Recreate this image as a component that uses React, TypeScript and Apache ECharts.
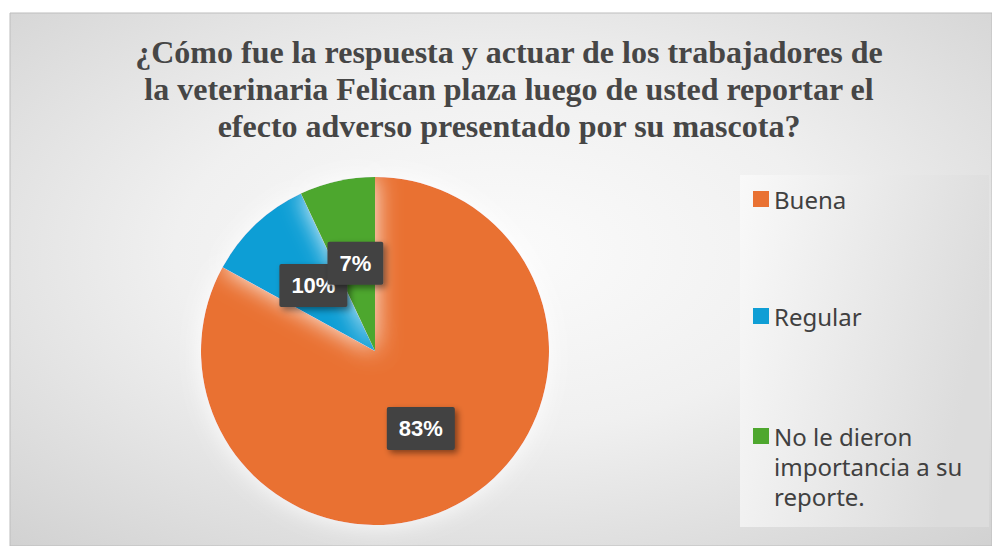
import React, { useEffect, useRef } from "react";
import * as echarts from "echarts";

const titleLines = [
  "¿Cómo fue la respuesta y actuar de los trabajadores de",
  "la veterinaria Felican plaza luego de usted reportar el",
  "efecto adverso presentado por su mascota?",
];
const categories = ["Buena", "Regular", "No le dieron importancia a su reporte."];
const legendLabels = ["Buena", "Regular", "\n\nNo le dieron\nimportancia a su\nreporte."];
const values = [83, 10, 7];
const colors = ["#E97132", "#0F9ED5", "#4EA72E"];

export default function App() {
  const ref = useRef<HTMLDivElement>(null);
  useEffect(() => {
    document.body.style.margin = "0";
    const chart = echarts.init(ref.current!, undefined, { renderer: "svg" });
    const legendTops = [184, 301, 361];
    const legendTextStyle = {
      fontFamily: "Noto Sans",
      fontSize: 24,
      color: "#404040",
      lineHeight: 30,
    };
    chart.setOption({
      animation: false,
      backgroundColor: "#ffffff",
      graphic: [
        {
          type: "rect",
          z: -10,
          shape: { x: 10, y: 13, width: 982, height: 533 },
          style: {
            fill: new echarts.graphic.RadialGradient(0.5, 0.45, 0.95, [
              { offset: 0, color: "#fbfbfb" },
              { offset: 0.35, color: "#f0f0f0" },
              { offset: 1, color: "#c2c2c2" },
            ]),
            stroke: "#bdbdbd",
            lineWidth: 1,
          },
        },
        {
          type: "rect",
          z: -9,
          shape: { x: 740, y: 175, width: 249, height: 352 },
          style: {
            fill: new echarts.graphic.LinearGradient(0, 0, 1, 0.3, [
              { offset: 0, color: "#f9f9f9" },
              { offset: 1, color: "#dcdcdc" },
            ]),
          },
        },
      ],
      title: {
        text: titleLines.join("\n"),
        left: 509,
        top: 33,
        textAlign: "center",
        padding: 0,
        textStyle: {
          fontFamily: "Liberation Serif",
          fontWeight: "bold",
          fontSize: 32,
          lineHeight: 37,
          color: "#464646",
        },
      },
      legend: categories.map((c, i) => ({
        data: [c],
        orient: "vertical",
        left: 753,
        top: legendTops[i],
        padding: 0,
        itemWidth: 16,
        itemHeight: 16,
        icon: "rect",
        formatter: () => legendLabels[i],
        textStyle: legendTextStyle,
        selectedMode: false,
      })),
      series: [
        {
          type: "pie",
          center: [375, 351],
          radius: 174,
          startAngle: 90,
          clockwise: true,
          avoidLabelOverlap: false,
          labelLayout: { hideOverlap: false },
          data: categories.map((c, i) => ({
            name: c,
            value: values[i],
            itemStyle: { color: colors[i] },
          })),
          itemStyle: {
            shadowBlur: 25,
            shadowColor: "rgba(255,255,255,0.95)",
          },
          label: {
            show: true,
            position: "inside",
            formatter: "{d}%",
            fontFamily: "Liberation Sans",
            fontWeight: "bold",
            fontSize: 22,
            lineHeight: 25,
            color: "#ffffff",
            backgroundColor: "#424242",
            padding: [9, 12],
            borderRadius: 2,
            shadowColor: "rgba(0,0,0,0.45)",
            shadowBlur: 6,
            shadowOffsetX: 3,
            shadowOffsetY: 3,
          },
          labelLine: { show: false },
          emphasis: { disabled: true },
        },
      ],
    });
    return () => chart.dispose();
  }, []);
  return (
    <div
      ref={ref}
      style={{ position: "fixed", left: 0, top: 0, width: 992, height: 546 }}
    />
  );
}
